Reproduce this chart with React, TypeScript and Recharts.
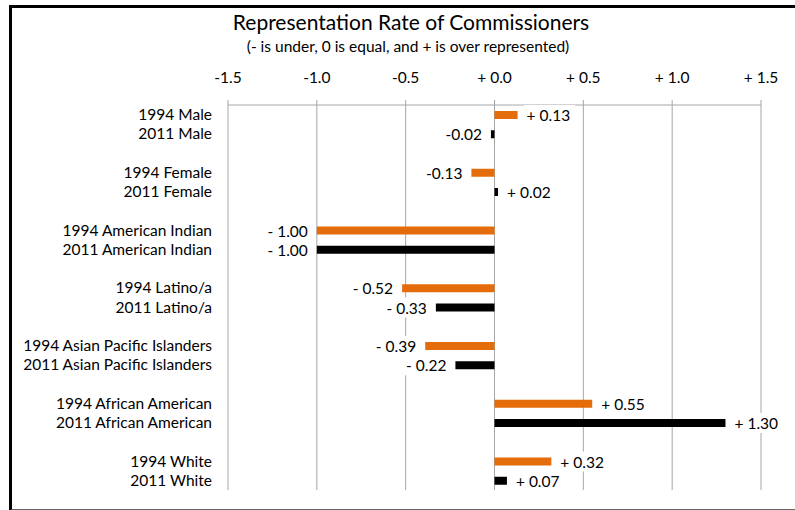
import React from "react";
import {
  BarChart,
  Bar,
  XAxis,
  YAxis,
  CartesianGrid,
  Cell,
  LabelList,
} from "recharts";

// groups in the order they appear, top to bottom
const groups = [
  "Male",
  "Female",
  "American Indian",
  "Latino/a",
  "Asian Pacific Islanders",
  "African American",
  "White",
];

const rate1994 = [0.13, -0.13, -1.0, -0.52, -0.39, 0.55, 0.32];
const rate2011 = [-0.02, 0.02, -1.0, -0.33, -0.22, 1.3, 0.07];

const labels1994 = ["+ 0.13", "-0.13", "- 1.00", "- 0.52", "- 0.39", "+ 0.55", "+ 0.32"];
const labels2011 = ["-0.02", "+ 0.02", "- 1.00", "- 0.33", "- 0.22", "+ 1.30", "+ 0.07"];

const xTicks = [-1.5, -1.0, -0.5, 0, 0.5, 1.0, 1.5];

const ORANGE = "#E46C0A";
const BLACK = "#000000";
const GRID = "#A6A6A6";
const FONT = "Lato, 'Open Sans', sans-serif";
const FS = 15.5;

// one row per bar, blank spacer rows between the groups
const rows: { name: string; value?: number; label?: string; year?: number }[] = [];
groups.forEach((g, i) => {
  if (i > 0) rows.push({ name: "" });
  rows.push({ name: "1994 " + g, value: rate1994[i], label: labels1994[i], year: 1994 });
  rows.push({ name: "2011 " + g, value: rate2011[i], label: labels2011[i], year: 2011 });
});

const formatTick = (v: number) => (v < 0 ? v.toFixed(1) : "+ " + v.toFixed(1));

const BarLabel = (props: any) => {
  const { x, y, width, height, value } = props;
  if (value === undefined || value === null || value === "") return null;
  const left = Math.min(x, x + width);
  const right = Math.max(x, x + width);
  const positive = String(value).startsWith("+");
  const cy = y + height / 2;
  const w = String(value).length * 7.6 + 4;
  const tx = positive ? right + 9 : left - 9;
  const boxX = positive ? tx - 3 : tx - w + 1;
  return (
    <g>
      <rect x={boxX} y={cy - 10} width={w + 2} height={20} fill="#fff" />
      <text
        x={tx}
        y={cy}
        textAnchor={positive ? "start" : "end"}
        dominantBaseline="central"
        fontSize={FS}
        fontFamily={FONT}
        fill="#000"
      >
        {value}
      </text>
    </g>
  );
};

export default function App() {
  return (
    <div
      style={{
        position: "absolute",
        left: 0,
        top: 0,
        width: 795,
        height: 510,
        overflow: "hidden",
        background: "#fff",
        fontFamily: FONT,
      }}
    >
      <div
        style={{
          position: "absolute",
          left: 9,
          top: 5,
          width: 820,
          height: 501,
          borderTop: "3px solid #000",
          borderLeft: "3px solid #000",
          borderBottom: "2px solid #666",
        }}
      />
      <div
        style={{
          position: "absolute",
          left: 0,
          width: 822,
          top: 9,
          textAlign: "center",
          fontSize: 21,
          lineHeight: "26px",
          color: "#000",
        }}
      >
        Representation Rate of Commissioners
      </div>
      <div
        style={{
          position: "absolute",
          left: 0,
          width: 816,
          top: 36,
          textAlign: "center",
          fontSize: FS,
          lineHeight: "20px",
          color: "#000",
        }}
      >
        (- is under, 0 is equal, and + is over represented)
      </div>
      <div style={{ position: "absolute", left: 0, top: 0 }}>
        <BarChart
          width={795}
          height={510}
          data={rows}
          layout="vertical"
          margin={{ top: 75, right: 34, bottom: 20, left: 28 }}
        >
          <CartesianGrid horizontal={false} stroke={GRID} strokeWidth={1} />
          <XAxis
            type="number"
            orientation="top"
            domain={[-1.5, 1.5]}
            ticks={xTicks}
            tickFormatter={formatTick}
            stroke={GRID}
            tickSize={5}
            tickMargin={17}
            height={30}
            tick={{ fill: "#000", fontSize: FS, fontFamily: FONT }}
          />
          <YAxis
            type="category"
            dataKey="name"
            width={200}
            axisLine={false}
            tickLine={false}
            tickMargin={10}
            interval={0}
            tick={{ fill: "#000", fontSize: FS, fontFamily: FONT }}
          />
          <Bar dataKey="value" barSize={8} isAnimationActive={false}>
            {rows.map((r, i) => (
              <Cell key={i} fill={r.year === 1994 ? ORANGE : BLACK} />
            ))}
            <LabelList dataKey="label" content={<BarLabel />} />
          </Bar>
        </BarChart>
      </div>
    </div>
  );
}
